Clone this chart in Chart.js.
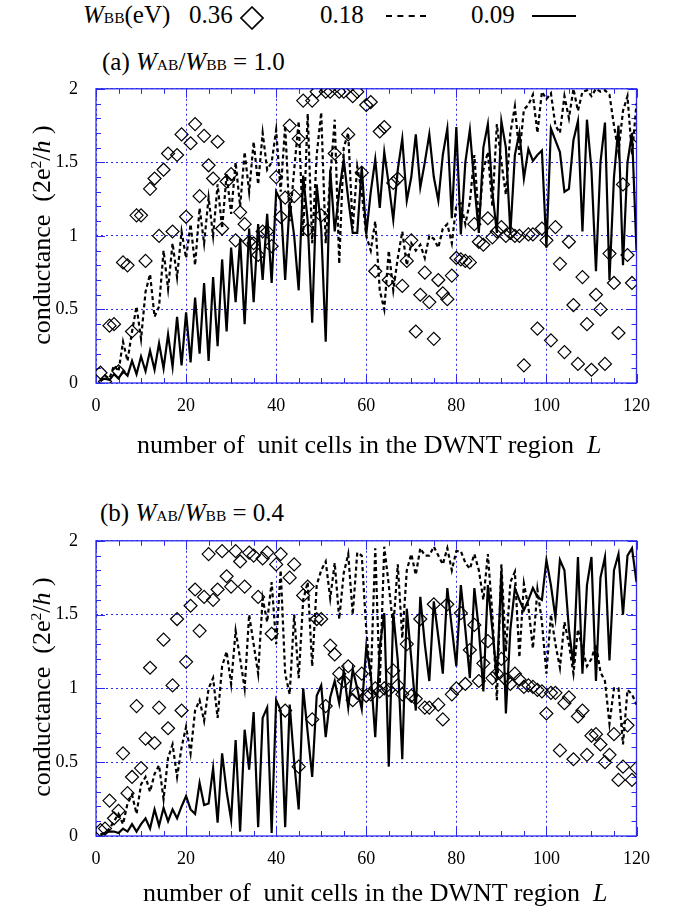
<!DOCTYPE html>
<html>
<head>
<meta charset="utf-8">
<script src="https://cdn.jsdelivr.net/npm/chart.js@4"></script>
<style>
  body { margin: 0; background: #fff; }
  #page { position: relative; width: 673px; height: 918px; overflow: hidden; font-family: 'Liberation Serif', 'Times New Roman', serif; color: #000; }
  .txt { position: absolute; white-space: nowrap; line-height: 1; }
  .sub { font-size: 0.62em; }
  canvas { position: absolute; left: 0; }
  .ytitle { position: absolute; width: 320px; text-align: center; font-size: 26px; line-height: 26px; transform: rotate(-90deg); white-space: nowrap; }
  .ytitle sup { font-size: 0.6em; vertical-align: 0.6em; line-height: 0; }
</style>
</head>
<body>
<div id="page">
  <!-- legend -->
  <div class="txt" style="left:83px; top:2px; font-size:25px;"><i>W</i><span class="sub">BB</span>(eV)</div>
  <div class="txt" style="left:189px; top:2px; font-size:25px;">0.36</div>
  <svg style="position:absolute; left:240px; top:6px;" width="24" height="24"><polygon points="12,1 23,12 12,23 1,12" fill="none" stroke="#000" stroke-width="1.6"/></svg>
  <div class="txt" style="left:320px; top:2px; font-size:25px;">0.18</div>
  <div style="position:absolute; left:386px; top:15px; width:40px; border-top:2px dashed #000;"></div>
  <div class="txt" style="left:471px; top:2px; font-size:25px;">0.09</div>
  <div style="position:absolute; left:532px; top:15px; width:44px; border-top:2px solid #000;"></div>

  <!-- panel titles -->
  <div class="txt" style="left:102px; top:49px; font-size:25px;">(a) <i>W</i><span class="sub">AB</span>/<i>W</i><span class="sub">BB</span> = 1.0</div>
  <div class="txt" style="left:100px; top:500px; font-size:25px;">(b) <i>W</i><span class="sub">AB</span>/<i>W</i><span class="sub">BB</span> = 0.4</div>

  <canvas id="chartA" width="673" height="380" style="top:60px;"></canvas>
  <canvas id="chartB" width="673" height="380" style="top:512px;"></canvas>

  <!-- axis titles -->
  <div class="ytitle" style="left:-118px; top:222px;">conductance&nbsp;&nbsp;(2e<sup>2</sup>/<i>h</i> )</div>
  <div class="ytitle" style="left:-118px; top:674px;">conductance&nbsp;&nbsp;(2e<sup>2</sup>/<i>h</i> )</div>
  <div class="txt" style="left:137px; top:432px; font-size:26px;">number of&nbsp;&nbsp;unit cells in the DWNT region&nbsp;&nbsp;<i>L</i></div>
  <div class="txt" style="left:143px; top:880px; font-size:26px;">number of&nbsp;&nbsp;unit cells in the DWNT region&nbsp;&nbsp;<i>L</i></div>
</div>

<script>
// number of unit cells L
const cells = Array.from({ length: 120 }, (_, i) => i + 1);

// axis ticks
const xTickValues = [0, 20, 40, 60, 80, 100, 120];
const xTickLabels = ['0', '20', '40', '60', '80', '100', '120'];
const yTickValues = [0, 0.5, 1, 1.5, 2];
const yTickLabels = ['0', '0.5', '1', '1.5', '2'];

// (a) W_AB/W_BB = 1.0
const solidA = [
  0.02, 0.03, 0.02, 0.06, 0.03, 0.08, 0.05, 0.15, 0.06, 0.18,
  0.08, 0.22, 0.09, 0.27, 0.10, 0.33, 0.11, 0.45, 0.12, 0.48,
  0.14, 0.58, 0.20, 0.68, 0.15, 0.72, 0.25, 0.84, 0.35, 0.92,
  0.55, 0.98, 0.40, 1.05, 0.55, 1.08, 0.70, 1.15, 0.68, 1.30,
  1.24, 0.70, 1.23, 1.00, 0.63, 1.41, 1.10, 0.41, 1.35, 1.05,
  0.28, 1.45, 1.03, 1.30, 1.52, 1.25, 1.02, 1.02, 1.47, 1.01,
  1.30, 1.52, 1.19, 1.57, 1.35, 1.11, 1.45, 1.66, 1.24, 1.40,
  1.69, 1.33, 1.50, 1.69, 1.40, 1.24, 1.55, 1.73, 1.12, 1.74,
  1.01, 1.50, 1.72, 1.35, 1.02, 1.60, 1.76, 1.30, 1.02, 1.78,
  1.60, 1.02, 1.55, 1.70, 1.39, 1.59, 1.51, 1.55, 1.58, 0.92,
  1.73, 1.65, 1.57, 1.30, 1.32, 1.65, 1.78, 1.03, 1.79, 1.45,
  0.76, 1.50, 1.77, 0.70, 1.40, 1.75, 0.80, 1.50, 1.70, 0.90
];
const dashedA = [
  0.01, 0.05, 0.03, 0.12, 0.08, 0.28, 0.15, 0.35, 0.52, 0.30,
  0.62, 0.74, 0.45, 0.52, 0.90, 0.64, 0.95, 0.72, 1.03, 0.85,
  1.08, 0.80, 1.19, 0.95, 1.26, 1.00, 1.35, 1.05, 1.42, 1.15,
  1.50, 1.20, 1.57, 1.30, 1.64, 1.35, 1.70, 1.45, 1.50, 1.72,
  1.30, 1.75, 1.10, 1.45, 1.78, 1.00, 1.83, 0.95, 1.55, 1.84,
  0.95, 1.40, 1.79, 0.81, 1.60, 1.70, 1.05, 1.47, 1.30, 1.00,
  0.90, 1.10, 0.63, 0.50, 0.90, 0.63, 0.85, 1.03, 0.80, 0.95,
  0.90, 0.94, 0.85, 1.00, 0.98, 0.92, 1.05, 1.08, 0.95, 1.21,
  1.22, 1.08, 1.23, 1.55, 1.10, 1.45, 1.57, 1.20, 1.76, 1.50,
  1.28, 1.70, 1.88, 1.55, 1.86, 1.89, 1.96, 1.70, 1.98, 1.93,
  1.97, 1.75, 1.70, 1.95, 1.80, 2.00, 1.85, 1.98, 1.99, 1.95,
  2.00, 1.98, 1.99, 1.96, 1.75, 1.57, 1.85, 1.95, 1.55, 1.90
];
const diamondsA = [
  0.07, 0.01, 0.39, 0.40, 0.08, 0.82, 0.80, 0.35, 1.14, 1.14,
  0.83, 1.32, 1.39, 1.00, 1.45, 1.56, 1.03, 1.55, 1.69, 1.13,
  1.63, 1.76, 1.27, 1.68, 1.48, 1.39, 1.64, 1.05, 1.37, 1.42,
  0.97, 1.16, 1.08, 0.96, 0.95, 0.87, 1.03, 1.03, 0.93, 1.40,
  1.13, 1.26, 1.75, 1.27, 1.66, 1.92, 1.04, 1.92, 1.98, 1.14,
  1.98, 1.98, 1.56, 1.98, 1.98, 1.69, 1.95, 1.98, 1.43, 1.89,
  1.91, 0.76, 1.71, 1.74, 0.70, 1.36, 1.39, 0.66, 0.83, 0.97,
  0.35, 0.60, 0.75, 0.55, 0.30, 0.70, 0.61, 0.57, 0.73, 0.85,
  0.84, 0.83, 0.82, 1.08, 0.96, 0.94, 1.12, 0.99, 1.03, 1.06,
  1.00, 1.02, 1.00, 1.00, 0.12, 1.01, 1.01, 0.37, 1.05, 0.97,
  0.29, 1.06, 0.81, 0.21, 0.96, 0.53, 0.13, 0.72, 0.40, 0.09,
  0.60, 0.50, 0.13, 0.88, 0.68, 0.34, 1.35, 0.87, 0.68, 1.68
];

// (b) W_AB/W_BB = 0.4
const solidB = [
  0.01, 0.02, 0.03, 0.03, 0.02, 0.05, 0.03, 0.08, 0.03, 0.08,
  0.12, 0.05, 0.18, 0.07, 0.19, 0.10, 0.18, 0.12, 0.20, 0.27,
  0.18, 0.15, 0.36, 0.21, 0.22, 0.46, 0.09, 0.56, 0.30, 0.11,
  0.65, 0.03, 0.72, 0.45, 0.84, 0.06, 0.80, 0.87, 0.02, 0.92,
  0.85, 0.06, 0.89, 0.50, 0.18, 1.00, 0.70, 0.40, 0.95, 1.02,
  0.67, 0.94, 1.05, 0.90, 1.12, 0.87, 1.13, 1.00, 0.86, 1.28,
  1.10, 0.67, 1.28, 1.51, 0.47, 1.51, 1.19, 0.52, 1.54, 1.20,
  0.85, 1.62, 1.30, 1.05, 1.59, 1.35, 1.10, 1.68, 1.41, 1.15,
  1.70, 1.40, 1.07, 1.68, 1.40, 0.98, 1.70, 1.40, 1.07, 1.79,
  0.83, 1.40, 1.68, 1.60, 1.53, 1.60, 1.68, 1.62, 1.60, 1.87,
  1.70, 1.48, 1.87, 1.80, 1.40, 1.16, 1.89, 1.10, 1.70, 1.89,
  1.05, 1.75, 1.89, 1.19, 1.80, 1.91, 1.50, 1.90, 1.95, 1.72
];
const dashedB = [
  0.01, 0.02, 0.05, 0.10, 0.15, 0.08, 0.22, 0.28, 0.15, 0.35,
  0.40, 0.30, 0.42, 0.48, 0.25, 0.53, 0.62, 0.40, 0.60, 0.74,
  0.56, 0.85, 0.92, 0.78, 1.00, 1.07, 0.80, 1.15, 1.25, 1.03,
  1.39, 1.20, 1.00, 1.50, 1.30, 1.10, 1.61, 1.45, 1.72, 1.30,
  1.80, 1.10, 0.96, 1.50, 1.07, 1.60, 1.72, 1.15, 1.70, 1.80,
  1.86, 1.61, 1.85, 1.47, 1.78, 1.91, 1.50, 1.92, 1.90, 1.40,
  1.05, 1.95, 1.03, 1.96, 1.70, 1.41, 1.84, 1.34, 1.80, 1.91,
  1.77, 1.95, 1.90, 1.90, 1.96, 1.90, 1.84, 1.95, 1.80, 1.93,
  1.93, 1.85, 1.81, 1.91, 1.80, 1.60, 1.91, 1.50, 0.92, 1.84,
  1.25, 1.72, 1.79, 1.21, 1.71, 1.55, 1.27, 1.67, 1.45, 1.10,
  1.50, 1.30, 1.14, 1.45, 1.30, 1.10, 1.40, 1.27, 1.15, 1.20,
  1.30, 1.11, 1.05, 0.76, 1.00, 1.00, 0.62, 0.99, 0.96, 0.89
];
const diamondsB = [
  0.04, 0.05, 0.24, 0.12, 0.17, 0.56, 0.29, 0.40, 0.88, 0.46,
  0.66, 1.14, 0.63, 0.87, 1.33, 0.73, 1.02, 1.47, 0.85, 1.18,
  1.56, 1.67, 1.39, 1.62, 1.91, 1.60, 1.67, 1.93, 1.76, 1.69,
  1.93, 1.86, 1.69, 1.92, 1.90, 1.62, 1.88, 1.92, 1.37, 1.84,
  1.91, 0.85, 1.75, 1.84, 0.47, 1.63, 1.69, 0.79, 1.47, 1.47,
  0.88, 1.29, 1.23, 1.10, 1.05, 1.15, 0.92, 0.97, 1.10, 0.95,
  0.96, 1.00, 0.98, 1.00, 0.99, 1.12, 1.02, 0.96, 1.30, 0.95,
  0.93, 1.47, 0.87, 0.87, 1.57, 0.89, 0.79, 1.57, 0.96, 1.00,
  1.51, 1.03, 1.26, 1.43, 1.05, 1.17, 1.32, 1.07, 1.10, 1.20,
  1.06, 1.03, 1.10, 1.06, 1.01, 1.02, 1.01, 0.99, 0.98, 0.83,
  0.97, 0.97, 0.58, 0.90, 0.94, 0.52, 0.81, 0.85, 0.55, 0.68,
  0.69, 0.62, 0.50, 0.55, 0.69, 0.38, 0.47, 0.75, 0.38, 0.46
];

const BLUE = '#2b2bf0';
const TICK_FONT = { family: "'Liberation Serif', 'Times New Roman', serif", size: 18 };

const toPoints = vals => vals.map((v, i) => ({ x: cells[i], y: v }));

// frame + inward ticks like the original plot
const framePlugin = {
  id: 'frame',
  beforeDatasetsDraw(chart) {
    const { ctx, chartArea: { left, right, top, bottom }, scales: { x, y } } = chart;
    ctx.save();
    ctx.strokeStyle = BLUE;
    ctx.lineWidth = 1;
    ctx.beginPath();
    for (let v = 0; v <= 120; v += 5) {
      const px = Math.round(x.getPixelForValue(v)) + 0.5;
      const len = v % 20 === 0 ? 9 : 5;
      ctx.moveTo(px, bottom); ctx.lineTo(px, bottom - len);
      ctx.moveTo(px, top); ctx.lineTo(px, top + len);
    }
    for (let k = 0; k <= 20; k++) {
      const py = Math.round(y.getPixelForValue(k / 10)) + 0.5;
      const len = k % 5 === 0 ? 9 : 5;
      ctx.moveTo(left, py); ctx.lineTo(left + len, py);
      ctx.moveTo(right, py); ctx.lineTo(right - len, py);
    }
    ctx.stroke();
    ctx.lineWidth = 1.3;
    ctx.strokeRect(left, top, right - left, bottom - top);
    ctx.restore();
  }
};

function makeChart(id, solid, dashed, diamonds, xAxisH) {
  const ctx = document.getElementById(id).getContext('2d');
  return new Chart(ctx, {
    type: 'line',
    data: {
      datasets: [
        {
          label: '0.36',
          data: toPoints(diamonds),
          showLine: false,
          pointStyle: 'rectRot',
          pointRadius: 6.5,
          pointBorderWidth: 1.2,
          pointBorderColor: '#000',
          pointBackgroundColor: 'rgba(0,0,0,0)'
        },
        {
          label: '0.18',
          data: toPoints(dashed),
          borderColor: '#000',
          borderWidth: 2.2,
          borderDash: [4, 3],
          pointRadius: 0,
          tension: 0
        },
        {
          label: '0.09',
          data: toPoints(solid),
          borderColor: '#000',
          borderWidth: 2.2,
          pointRadius: 0,
          tension: 0
        }
      ]
    },
    options: {
      responsive: false,
      animation: false,
      devicePixelRatio: 1,
      layout: { padding: { left: 0, right: 36.5, top: 27, bottom: 0 } },
      plugins: { legend: { display: false }, tooltip: { enabled: false } },
      scales: {
        x: {
          type: 'linear',
          min: 0,
          max: 120,
          afterFit: s => { s.height = xAxisH; },
          afterBuildTicks: s => { s.ticks = xTickValues.map(v => ({ value: v })); },
          ticks: {
            callback: v => xTickLabels[xTickValues.indexOf(v)],
            font: TICK_FONT,
            color: '#000',
            padding: 12,
            maxRotation: 0,
            autoSkip: false
          },
          grid: { color: BLUE, lineWidth: 1, drawTicks: false, borderDash: [2, 3] },
          border: { display: false, dash: [2, 3] }
        },
        y: {
          min: 0,
          max: 2,
          afterFit: s => { s.width = 96; },
          afterBuildTicks: s => { s.ticks = yTickValues.map(v => ({ value: v })); },
          ticks: {
            callback: v => yTickLabels[yTickValues.indexOf(v)],
            font: TICK_FONT,
            color: '#000',
            padding: 18,
            autoSkip: false
          },
          grid: { color: BLUE, lineWidth: 1, drawTicks: false, borderDash: [2, 3] },
          border: { display: false, dash: [2, 3] }
        }
      }
    },
    plugins: [framePlugin]
  });
}

makeChart('chartA', solidA, dashedA, diamondsA, 57);
makeChart('chartB', solidB, dashedB, diamondsB, 56);
</script>
</body>
</html>
